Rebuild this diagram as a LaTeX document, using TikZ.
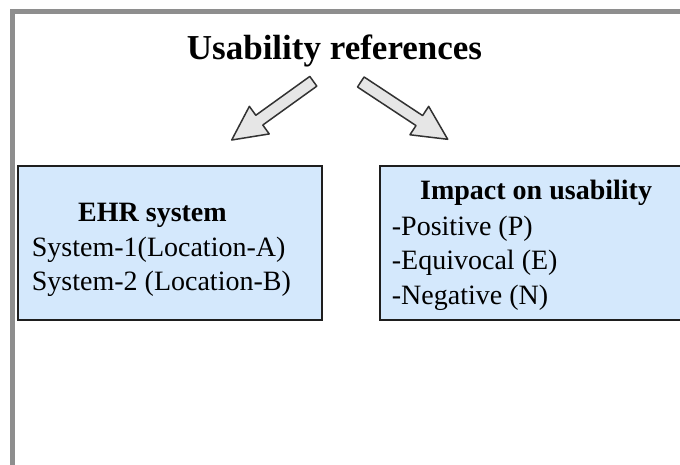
\documentclass[tikz,border=0pt]{standalone}
\usepackage{fontspec}
\setmainfont{Liberation Serif}
\usetikzlibrary{calc}

\definecolor{framegray}{RGB}{142,142,142}
\definecolor{boxfill}{RGB}{212,232,252}
\definecolor{boxline}{RGB}{30,30,30}
\definecolor{arrowfill}{RGB}{230,230,230}
\definecolor{arrowline}{RGB}{50,50,50}

\tikzset{
  frameline/.style={line width=4.5pt, draw=framegray},
  infobox/.style={draw=boxline, fill=boxfill, line width=1.4pt},
  titletext/.style={inner sep=0pt, anchor=base, font=\fontsize{35}{40}\selectfont\bfseries},
  boxtext/.style={inner sep=0pt, anchor=base west, font=\fontsize{28}{34}\selectfont},
  boxhead/.style={boxtext, font=\fontsize{28}{34}\selectfont\bfseries},
  blockarrowstyle/.style={draw=arrowline, fill=arrowfill, line width=1.5pt, line join=round},
}

% block arrow from tail coordinate #1 to tip coordinate #2
\newcommand\blockarrow[2]{%
  \coordinate (#1-hb) at ($(#2)!34pt!(#1)$);
  \draw[blockarrowstyle]
    ($(#1)!6pt!90:(#2)$) -- ($(#1-hb)!6pt!90:(#2)$) -- ($(#1-hb)!17pt!90:(#2)$)
    -- (#2)
    -- ($(#1-hb)!17pt!-90:(#2)$) -- ($(#1-hb)!6pt!-90:(#2)$) -- ($(#1)!6pt!-90:(#2)$) -- cycle;
}

\begin{document}
\begin{tikzpicture}[x=1pt, y=1pt]
  \useasboundingbox (0,0) rectangle (680,464);
  \fill[white] (0,0) rectangle (680,464);
  \clip (0,0) rectangle (680,464);

  % outer frame (left and top edges)
  \draw[frameline] (12.3,-10) -- (12.3,452.5) -- (700,452.5);

  % title
  \node[titletext] (title) at (334.5,404) {Usability references};

  % boxes
  \path[infobox] (18,144) rectangle (322,298);
  \path[infobox] (380,144) rectangle (692,298);

  \node[boxhead] (ehr) at (78,242) {EHR system};
  \node[boxtext] (sys1) at (31.7,207.5) {System-1(Location-A)};
  \node[boxtext] (sys2) at (31.7,174) {System-2 (Location-B)};

  \node[boxhead] (impact) at (420,264.5) {Impact on usability};
  \node[boxtext] (pos) at (391.7,228.5) {-Positive (P)};
  \node[boxtext] (equ) at (391.7,194) {-Equivocal (E)};
  \node[boxtext] (neg) at (391.7,159.5) {-Negative (N)};

  % arrows
  \coordinate (lt) at (313.3,382.7);
  \coordinate (lh) at (231.7,324);
  \coordinate (rt) at (360.8,382);
  \coordinate (rh) at (447.7,324.7);
  \blockarrow{lt}{lh}
  \blockarrow{rt}{rh}
\end{tikzpicture}
\end{document}
